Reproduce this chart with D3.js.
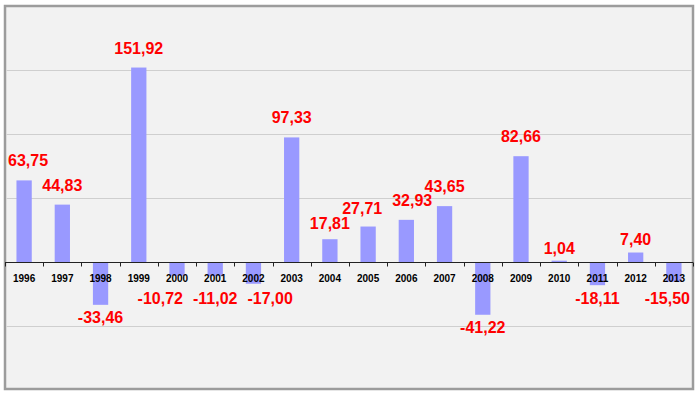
<!DOCTYPE html>
<html>
<head>
<meta charset="utf-8">
<script src="https://cdn.jsdelivr.net/npm/d3@7"></script>
<style>
  body { margin: 0; background: #fff; }
  svg { display: block; font-family: Arial, "Liberation Sans", sans-serif; }
</style>
</head>
<body>
<div id="chart"></div>
<script>
var years = ["1996","1997","1998","1999","2000","2001","2002","2003","2004","2005",
             "2006","2007","2008","2009","2010","2011","2012","2013"]
var values = [63.75, 44.83, -33.46, 151.92, -10.72, -11.02, -17.00, 97.33, 17.81, 27.71,
              32.93, 43.65, -41.22, 82.66, 1.04, -18.11, 7.40, -15.50]
var gridTicks = [-50, 50, 100, 150]

var width = 700, height = 397
var box = {left: 5, top: 6, right: 693, bottom: 389}

var svg = d3.select("#chart").append("svg")
  .attr("width", width)
  .attr("height", height)

// frame + background
svg.append("rect")
  .attr("x", box.left).attr("y", box.top)
  .attr("width", box.right - box.left).attr("height", box.bottom - box.top)
  .attr("fill", "#f2f2f2")
  .attr("stroke", "#9c9c9c")
  .attr("stroke-width", 2.5)

var x = d3.scaleBand()
  .domain(years)
  .range([box.left, box.right])
  .paddingInner(0.6)
  .paddingOuter(0.3)

var y = d3.scaleLinear()
  .domain([-100, 200])
  .range([390, 6])

// grid
svg.append("g")
  .selectAll("line")
  .data(gridTicks)
  .join("line")
    .attr("x1", box.left + 1.5)
    .attr("x2", box.right - 1.5)
    .attr("y1", d => Math.round(y(d)) + 0.5)
    .attr("y2", d => Math.round(y(d)) + 0.5)
    .attr("stroke", "#cfcfcf")
    .attr("stroke-width", 1.2)

// bars
svg.append("g")
  .selectAll("rect")
  .data(values)
  .join("rect")
    .attr("x", (d, i) => x(years[i]))
    .attr("width", x.bandwidth())
    .attr("y", d => y(Math.max(0, d)))
    .attr("height", d => Math.abs(y(d) - y(0)))
    .attr("fill", "#9999ff")

// zero axis with ticks between categories
var y0 = Math.round(y(0)) + 0.5
var gx = svg.append("g")
gx.append("line")
  .attr("x1", box.left).attr("x2", box.right)
  .attr("y1", y0).attr("y2", y0)
  .attr("stroke", "#222")
  .attr("stroke-width", 1)
gx.selectAll(".tick")
  .data(d3.range(years.length + 1))
  .join("line")
    .attr("class", "tick")
    .attr("x1", i => Math.round(box.left + i * x.step()) + 0.5)
    .attr("x2", i => Math.round(box.left + i * x.step()) + 0.5)
    .attr("y1", y0).attr("y2", y0 + 4)
    .attr("stroke", "#222")

gx.selectAll("text")
  .data(years)
  .join("text")
    .attr("x", d => x(d) + x.bandwidth() / 2)
    .attr("y", y0 + 19)
    .attr("text-anchor", "middle")
    .attr("font-size", 10)
    .attr("font-weight", "bold")
    .attr("fill", "#000")
    .text(d => d)

// value labels
var fmt = d => d.toFixed(2).replace(".", ",")
var labels = svg.append("g")
  .selectAll("text")
  .data(values)
  .join("text")
    .attr("text-anchor", "middle")
    .attr("font-size", 16)
    .attr("font-weight", "bold")
    .attr("fill", "#ff0000")
    .text(fmt)

// start each label on its bar (short bars keep it closer), then nudge overlapping neighbours apart
var pos = values.map((d, i) => ({
  x: x(years[i]) + x.bandwidth() / 2,
  y: d >= 0 ? y(d) - (6 + Math.min(8, d / 4)) : Math.max(y(d) + 18, y0 + 41),
  w: labels.nodes()[i].getComputedTextLength()
}))
for (var iter = 0; iter < 60; iter++) {
  for (var i = 0; i < pos.length - 1; i++) {
    var a = pos[i], b = pos[i + 1]
    if (Math.abs(a.y - b.y) >= 12) continue
    var need = (a.w + b.w) / 2 + 10
    var gap = b.x - a.x
    if (gap < need) {
      a.x -= (need - gap) / 2
      b.x += (need - gap) / 2
    }
  }
  pos.forEach(p => {
    p.x = Math.max(box.left + 3 + p.w / 2, Math.min(box.right - 3 - p.w / 2, p.x))
  })
}

labels
  .attr("x", (d, i) => pos[i].x)
  .attr("y", (d, i) => pos[i].y)
</script>
</body>
</html>
